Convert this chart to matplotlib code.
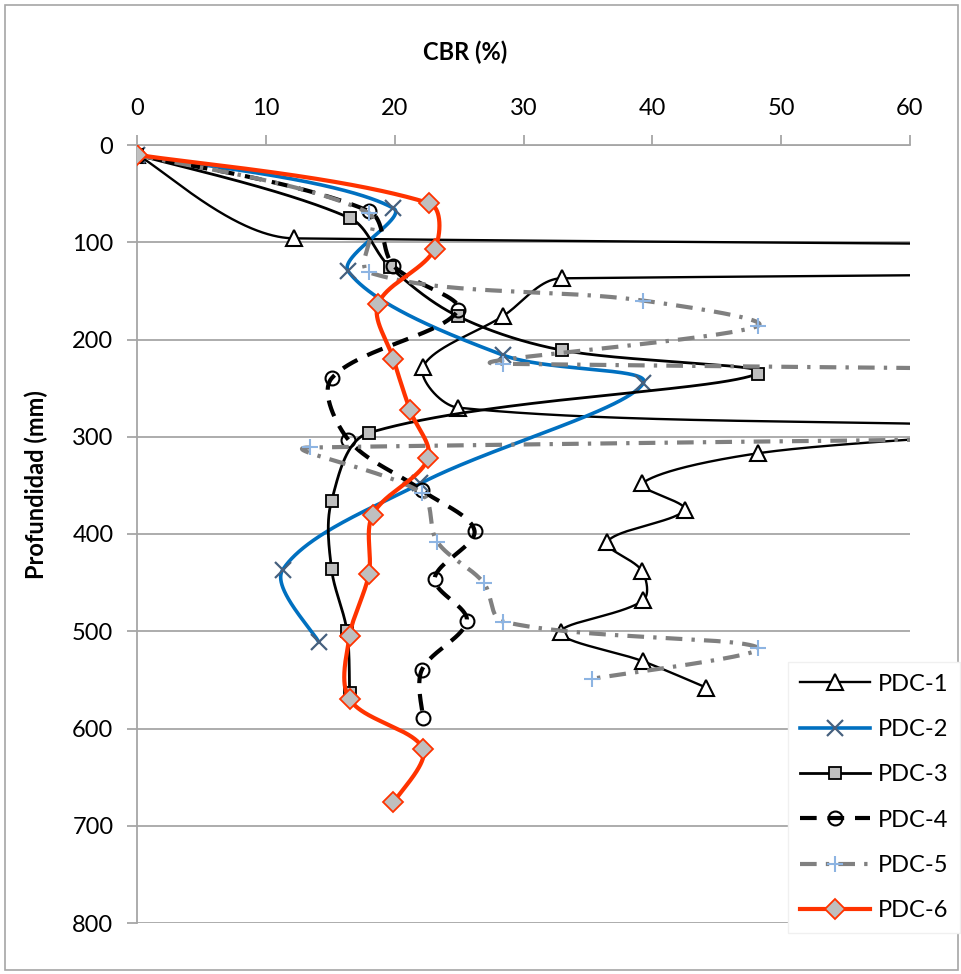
import numpy as np
import matplotlib
matplotlib.use('Agg')
import matplotlib.pyplot as plt
from matplotlib.lines import Line2D
from matplotlib.patches import Rectangle

plt.rcParams['font.family'] = ['Lato', 'DejaVu Sans']

# CBR (%) vs profundidad (mm) para cada ensayo PDC
pdc1_cbr = [0, 12.2, 650, 33.0, 28.4, 22.2, 24.9, 68, 48.2, 39.2, 42.5, 36.5, 39.2, 39.3, 32.9, 39.3, 44.2]
pdc1_prof = [10, 96, 100, 137, 176, 228, 270, 292, 317, 348, 375, 408, 438, 468, 501, 531, 558]

pdc2_cbr = [0, 19.9, 16.4, 28.4, 39.3, 22.0, 11.3, 14.1]
pdc2_prof = [10, 65, 130, 216, 245, 348, 437, 511]

pdc3_cbr = [0, 16.5, 19.6, 24.9, 33.0, 48.2, 18.0, 15.1, 15.1, 16.3, 16.5]
pdc3_prof = [10, 75, 125, 176, 211, 235, 296, 366, 436, 500, 564]

pdc4_cbr = [0, 18.0, 19.9, 24.9, 15.1, 16.4, 22.1, 26.2, 23.1, 25.6, 22.1, 22.2]
pdc4_prof = [10, 68, 124, 170, 240, 303, 355, 397, 446, 489, 540, 589]

pdc5_cbr = [0, 18.0, 18.0, 39.3, 48.2, 28.4, 520, 13.4, 22.1, 23.3, 26.9, 28.4, 48.2, 35.3]
pdc5_prof = [10, 70, 131, 160, 186, 225, 260, 311, 358, 408, 450, 490, 517, 549]

pdc6_cbr = [0, 22.7, 23.1, 18.7, 19.9, 21.2, 22.6, 18.3, 18.0, 16.5, 16.5, 22.2, 19.9]
pdc6_prof = [10, 60, 107, 164, 220, 273, 322, 380, 441, 505, 570, 621, 676]

nombres = ['PDC-1', 'PDC-2', 'PDC-3', 'PDC-4', 'PDC-5', 'PDC-6']
datos = [(pdc1_cbr, pdc1_prof), (pdc2_cbr, pdc2_prof), (pdc3_cbr, pdc3_prof),
         (pdc4_cbr, pdc4_prof), (pdc5_cbr, pdc5_prof), (pdc6_cbr, pdc6_prof)]

# escala aproximada en pixeles por unidad (para medir distancias en pantalla)
ESC_X, ESC_Y = 12.88, 0.973


def suavizar(x, y, n=400):
    # curva suavizada: Bezier con tangentes ponderadas por la longitud de cada tramo
    p = np.column_stack([x, y]).astype(float)
    q = p * [ESC_X, ESC_Y]
    m = len(p)
    tang = np.zeros_like(p)
    for i in range(m):
        a = p[i - 1] if i > 0 else p[i]
        b = p[i + 1] if i < m - 1 else p[i]
        tang[i] = b - a
    dist = np.linalg.norm(np.diff(q, axis=0), axis=1)
    out = [p[:1]]
    t = np.linspace(0, 1, n)[1:, None]
    for i in range(m - 1):
        d = dist[i]
        dprev = dist[i - 1] if i > 0 else d
        dnext = dist[i + 1] if i + 1 < m - 1 else d
        f1 = (d / (dprev + d)) / 3 if i > 0 else 1 / 6
        f2 = (d / (dnext + d)) / 3 if i + 1 < m - 1 else 1 / 6
        c1 = p[i] + tang[i] * f1
        c2 = p[i + 1] - tang[i + 1] * f2
        p1, p2 = p[i], p[i + 1]
        seg = (1 - t) ** 3 * p1 + 3 * (1 - t) ** 2 * t * c1 + 3 * (1 - t) * t ** 2 * c2 + t ** 3 * p2
        out.append(seg)
    out = np.vstack(out)
    return out[:, 0], out[:, 1]


estilos = [
    dict(line=dict(color='black', lw=1.7, ls='-'),
         mk=dict(marker='^', ms=11, mfc='white', mec='black', mew=1.5)),
    dict(line=dict(color='#0070C0', lw=2.6, ls='-'),
         mk=dict(marker='x', ms=11, mfc='none', mec='#46607e', mew=1.6)),
    dict(line=dict(color='black', lw=2.0, ls='-'),
         mk=dict(marker='s', ms=8.5, mfc='#bfbfbf', mec='black', mew=1.3)),
    dict(line=dict(color='black', lw=3.0, ls=(0, (4, 2.6))),
         mk=dict(marker='o', ms=10, mfc='none', mec='black', mew=1.5)),
    dict(line=dict(color='#808080', lw=3.0, ls=(0, (4, 2.2, 0.8, 2.2))),
         mk=dict(marker='+', ms=11, mfc='none', mec='#8db4e2', mew=1.5)),
    dict(line=dict(color='#ff3300', lw=3.0, ls='-'),
         mk=dict(marker='D', ms=10, mfc='#bfbfbf', mec='#ff3300', mew=1.3)),
]

fig = plt.figure(figsize=(9.62, 9.74), dpi=100)
fig.patches.append(Rectangle((5 / 962, 4 / 974), 953 / 962, 965 / 974, transform=fig.transFigure,
                             fill=False, edgecolor='#a6a6a6', lw=1.2))

ax = fig.add_axes([137 / 962, 1 - 923 / 974, (910 - 137) / 962, (923 - 145) / 974])

handles = []
for k, ((x, y), est) in enumerate(zip(datos, estilos)):
    sx, sy = suavizar(x, y)
    ax.plot(sx, sy, zorder=3 + 2 * k, **est['line'])
    ax.plot(x, y, ls='none', zorder=4 + 2 * k, **est['mk'])
    handles.append(Line2D([], [], **est['line'], **est['mk']))

ax.set_xlim(0, 60)
ax.set_ylim(800, 0)
ax.set_xticks(range(0, 61, 10))
ax.set_yticks(range(0, 801, 100))
ax.xaxis.tick_top()
ax.grid(axis='y', color='#a6a6a6', lw=1.3, zorder=0)
ax.set_axisbelow(True)
for s in ['right', 'bottom']:
    ax.spines[s].set_visible(False)
for s in ['top', 'left']:
    ax.spines[s].set_color('#a6a6a6')
    ax.spines[s].set_linewidth(1.3)
ax.tick_params(axis='both', direction='out', length=7, width=1.3, color='#a6a6a6',
               labelsize=17, labelcolor='black')
ax.tick_params(axis='x', pad=12)
ax.tick_params(axis='y', pad=10)

fig.text(465 / 962, 1 - 52 / 974, 'CBR (%)', ha='center', va='center', fontsize=17, fontweight='bold')
fig.text(36 / 962, 1 - 485 / 974, 'Profundidad (mm)', ha='center', va='center', rotation=90,
         fontsize=17, fontweight='bold')

leg = fig.legend(handles, nombres, loc='upper left', bbox_to_anchor=(776 / 962, 1 - 650 / 974),
                 fontsize=17, numpoints=1, handlelength=3.0, handletextpad=0.3,
                 labelspacing=1.03, borderpad=0.5, fancybox=False, framealpha=1,
                 edgecolor='#f0f0f0')

plt.savefig('out.png', dpi=100)
